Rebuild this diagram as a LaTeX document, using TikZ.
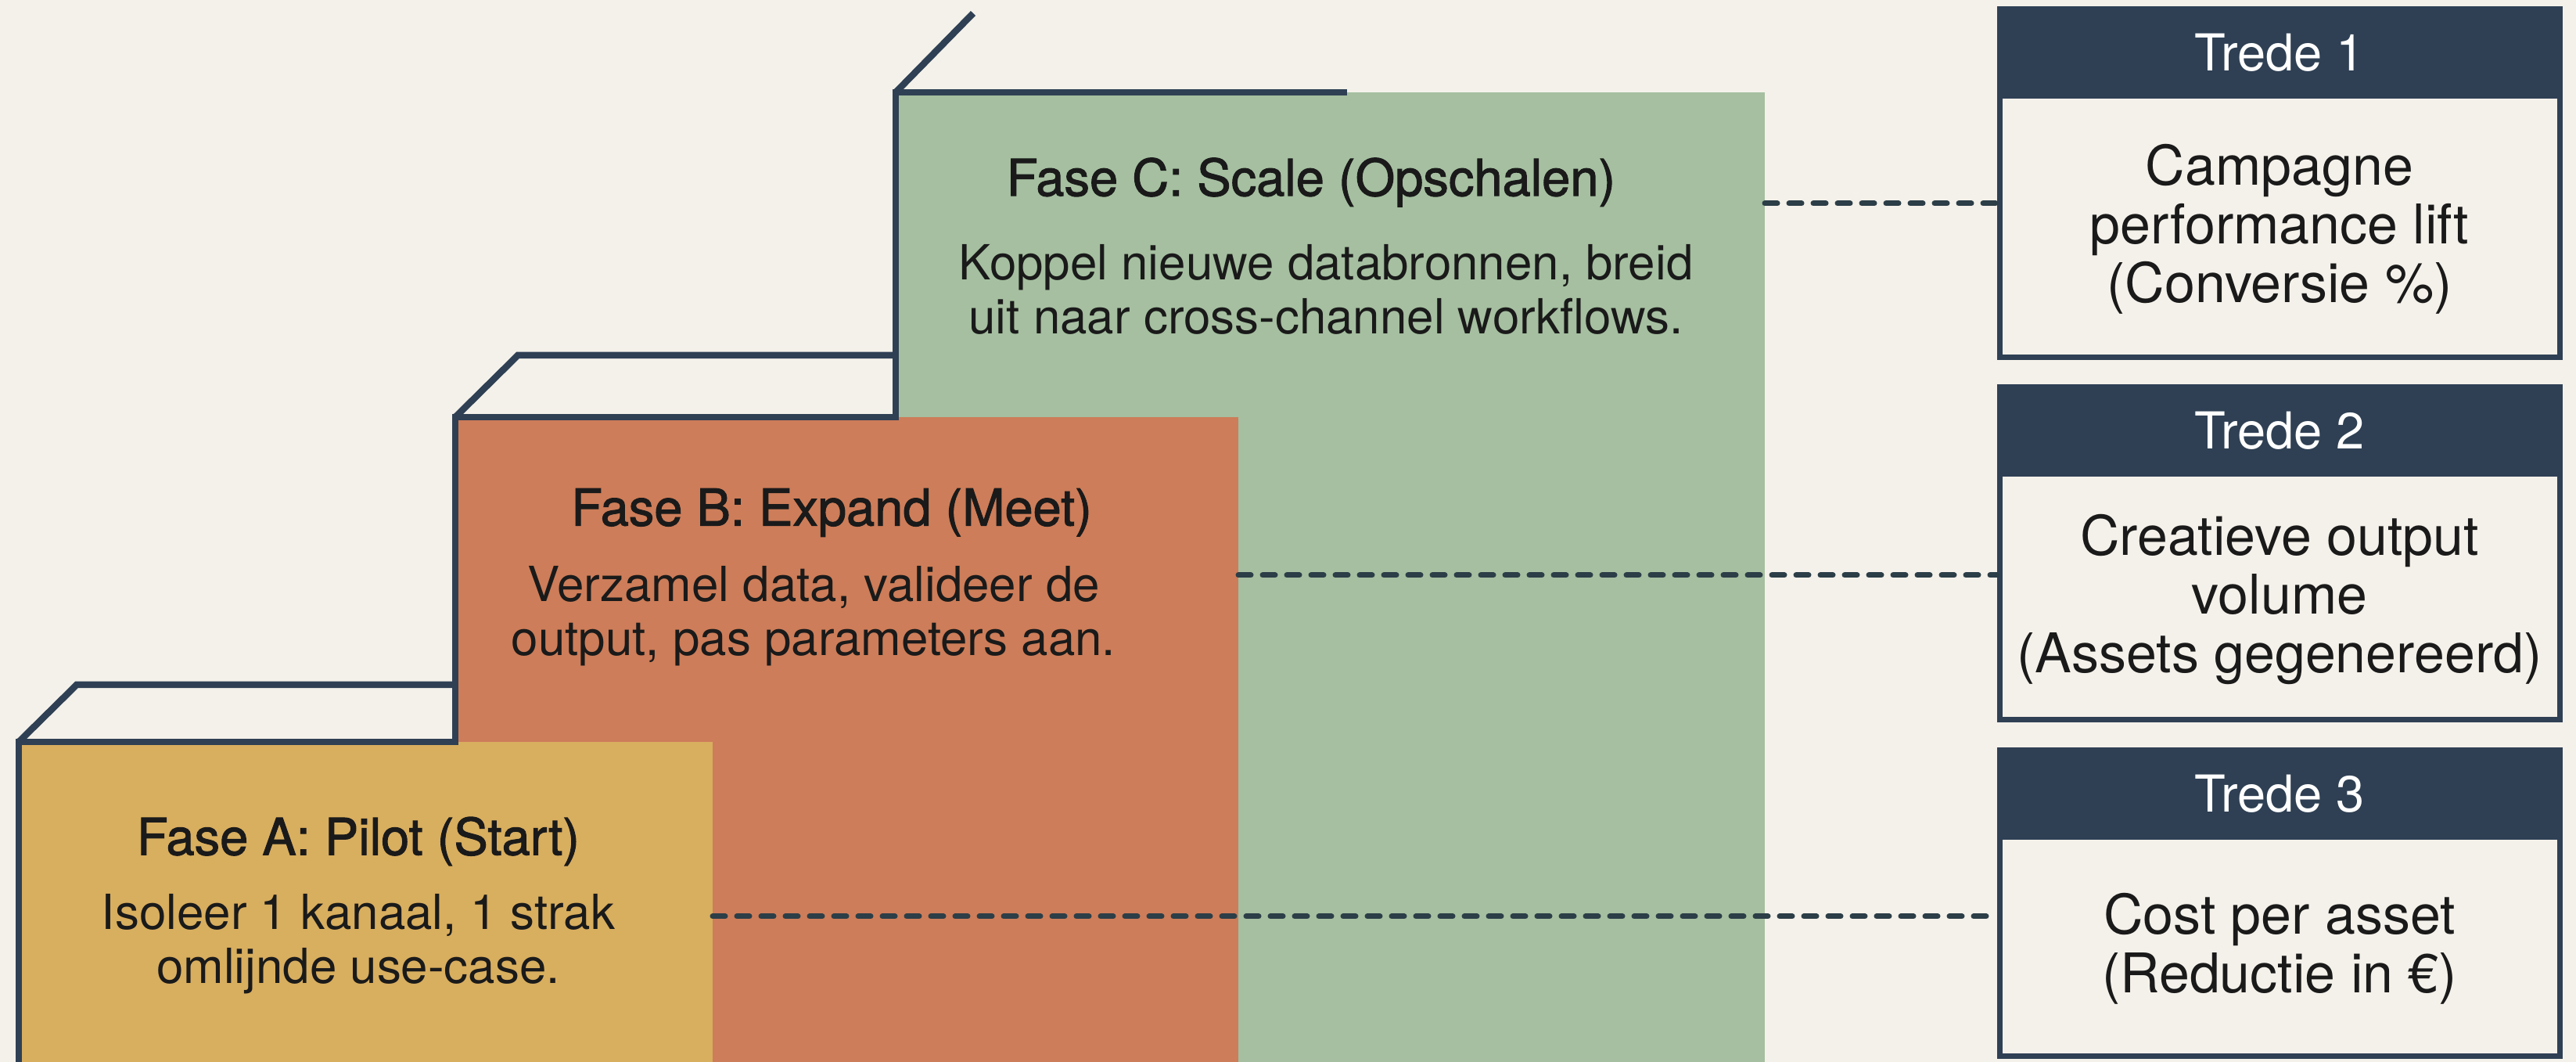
\documentclass[tikz,border=0pt]{standalone}
\usepackage{fontspec}
\setmainfont{TeX Gyre Heros}
\newfontfamily\headfont{TeX Gyre Heros}[FakeBold=1.6]
\usepackage{tikz}
\usetikzlibrary{positioning}
\definecolor{bgcream}{HTML}{F4F1EA}
\definecolor{navy}{HTML}{2F4054}
\definecolor{dashnavy}{HTML}{2C3E47}
\definecolor{stepyellow}{HTML}{D8AE5F}
\definecolor{steporange}{HTML}{CD7D59}
\definecolor{stepgreen}{HTML}{A5BFA0}
\definecolor{inkblack}{HTML}{1A1A1A}
\tikzset{font=\fontsize{17.6}{19.6}\selectfont}
\tikzset{block/.style={rectangle,inner sep=0pt,outer sep=0pt,anchor=south west}}
\tikzset{edge/.style={navy,line width=0.085cm}}
\tikzset{dashline/.style={dashnavy,line width=0.07cm,line cap=round,dash pattern=on 0.16cm off 0.15cm}}
\tikzset{fasetitle/.style={text=inkblack,font=\headfont\fontsize{18.5}{20}\selectfont}}
\tikzset{fasetext/.style={text=inkblack,align=center}}
\tikzset{tredebox/.style={draw=navy,line width=0.07cm,fill=bgcream,minimum width=7.16cm,inner sep=0pt}}
\tikzset{tredehead/.style={fill=navy,text=white,minimum width=7.16cm,minimum height=1.17cm,inner sep=0pt,font=\fontsize{18.5}{20}\selectfont}}
\tikzset{tredetext/.style={text=inkblack,align=center,font=\fontsize{19.9}{21.3}\selectfont}}

\begin{document}
\begin{tikzpicture}
  \useasboundingbox (0,0) rectangle (32.93,13.57);
  \fill[bgcream] (0,0) rectangle (32.93,13.57);

  % steps, back to front
  \node[block,fill=stepgreen,minimum width=11.11cm,minimum height=12.39cm] (stepC) at (11.45,0) {};
  \node[block,fill=steporange,minimum width=10.01cm,minimum height=8.24cm] (stepB) at (5.82,0) {};
  \node[block,fill=stepyellow,minimum width=8.87cm,minimum height=4.09cm] (stepA) at (0.24,0) {};

  \draw[edge] (stepA.south west) |- (stepB.west |- stepA.north) |- (stepC.west |- stepB.north) |- (17.22,12.39);
  \draw[edge] (stepA.north west) -- ++(0.74,0.73) -- ++(4.84,0);
  \draw[edge] (stepB.north west) -- ++(0.80,0.79) -- ++(4.83,0);
  \draw[edge] (stepC.north west) -- ++(0.99,1.01);

  \node[fasetitle] (titleC) at (16.76,11.24) {Fase C: Scale (Opschalen)};
  \node[fasetext] (textC) at (16.95,9.87) {Koppel nieuwe databronnen, breid\\uit naar cross-channel workflows.};
  \node[fasetitle] (titleB) at (10.63,7.02) {Fase B: Expand (Meet)};
  \node[fasetext] (textB) at (10.40,5.70) {Verzamel data, valideer de\\output, pas parameters aan.};
  \node[fasetitle] (titleA) at (4.58,2.82) {Fase A: Pilot (Start)};
  \node[fasetext] (textA) at (4.58,1.51) {Isoleer 1 kanaal, 1 strak\\omlijnde use-case.};

  % treden
  \node[tredebox,minimum height=4.45cm] (t1) at (29.14,11.225) {};
  \node[tredehead,anchor=north] (t1h) at (t1.north) {Trede 1};
  \node[tredetext] (t1t) at (29.14,10.64) {Campagne\\performance lift\\(Conversie \%)};

  \node[tredebox,minimum height=4.25cm] (t2) at (29.14,6.495) {};
  \node[tredehead,anchor=north] (t2h) at (t2.north) {Trede 2};
  \node[tredetext] (t2t) at (29.14,5.91) {Creatieve output\\volume\\(Assets gegenereerd)};

  \node[tredebox,minimum height=3.91cm] (t3) at (29.14,2.025) {};
  \node[tredehead,anchor=north] (t3h) at (t3.north) {Trede 3};
  \node[tredetext] (t3t) at (29.14,1.45) {Cost per asset\\(Reductie in €)};

  \coordinate (dC) at ([yshift=10.97cm]stepC.south east);
  \coordinate (dB) at ([yshift=6.22cm]stepB.south east);
  \coordinate (dA) at ([yshift=1.86cm]stepA.south east);
  \draw[dashline] (dC) -- (dC -| t1.west);
  \draw[dashline] (dB) -- (dB -| t2.west);
  \draw[dashline] (dA) -- (dA -| t3.west);
\end{tikzpicture}
\end{document}
